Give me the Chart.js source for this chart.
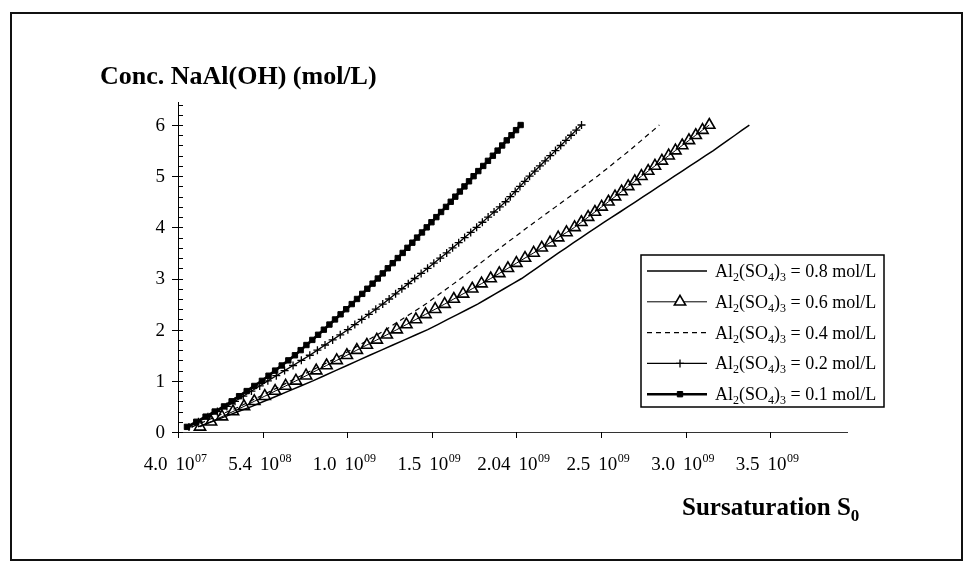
<!DOCTYPE html>
<html>
<head>
<meta charset="utf-8">
<title>Conc. NaAl(OH) - Sursaturation S0</title>
<script src="https://cdn.jsdelivr.net/npm/chart.js@4.4.1/dist/chart.umd.min.js"></script>
<style>
  html, body { margin: 0; padding: 0; background: #fff; }
  canvas { display: block; }
</style>
</head>
<body>
<canvas id="sursatChart" width="970" height="565"></canvas>
<script>
// Conc. NaAl(OH) (mol/L) - meme pas pour toutes les series
const conc = [0.1, 0.2, 0.3, 0.4, 0.5, 0.6, 0.7, 0.8, 0.9, 1.0,
    1.1, 1.2, 1.3, 1.4, 1.5, 1.6, 1.7, 1.8, 1.9, 2.0,
    2.1, 2.2, 2.3, 2.4, 2.5, 2.6, 2.7, 2.8, 2.9, 3.0,
    3.1, 3.2, 3.3, 3.4, 3.5, 3.6, 3.7, 3.8, 3.9, 4.0,
    4.1, 4.2, 4.3, 4.4, 4.5, 4.6, 4.7, 4.8, 4.9, 5.0,
    5.1, 5.2, 5.3, 5.4, 5.5, 5.6, 5.7, 5.8, 5.9, 6.0];

// Sursaturation S0 (x 10^9), une liste par concentration en Al2(SO4)3
const s0_08 = [0.158, 0.238, 0.318, 0.397, 0.477, 0.549, 0.621, 0.693, 0.765, 0.837,
    0.904, 0.971, 1.039, 1.106, 1.173, 1.242, 1.310, 1.379, 1.447, 1.516,
    1.575, 1.634, 1.693, 1.752, 1.811, 1.863, 1.915, 1.967, 2.019, 2.071,
    2.115, 2.158, 2.202, 2.245, 2.289, 2.334, 2.378, 2.423, 2.468, 2.513,
    2.559, 2.605, 2.652, 2.698, 2.744, 2.790, 2.836, 2.882, 2.928, 2.974,
    3.020, 3.066, 3.112, 3.158, 3.204, 3.247, 3.289, 3.332, 3.374, 3.417];

const s0_06 = [0.170, 0.235, 0.300, 0.365, 0.430, 0.491, 0.553, 0.614, 0.676, 0.737,
    0.797, 0.857, 0.918, 0.978, 1.038, 1.097, 1.156, 1.215, 1.274, 1.333,
    1.390, 1.446, 1.503, 1.560, 1.616, 1.670, 1.725, 1.779, 1.834, 1.888,
    1.939, 1.990, 2.040, 2.091, 2.142, 2.190, 2.239, 2.287, 2.336, 2.384,
    2.424, 2.464, 2.504, 2.544, 2.584, 2.623, 2.662, 2.701, 2.740, 2.779,
    2.819, 2.859, 2.900, 2.940, 2.980, 3.020, 3.060, 3.100, 3.140, 3.180];

const s0_04 = [0.123, 0.194, 0.264, 0.335, 0.406, 0.466, 0.526, 0.587, 0.647, 0.707,
    0.767, 0.827, 0.888, 0.948, 1.008, 1.060, 1.112, 1.164, 1.216, 1.268,
    1.315, 1.362, 1.410, 1.457, 1.504, 1.545, 1.587, 1.628, 1.670, 1.711,
    1.750, 1.789, 1.827, 1.866, 1.905, 1.945, 1.985, 2.026, 2.066, 2.106,
    2.147, 2.189, 2.230, 2.272, 2.313, 2.354, 2.395, 2.437, 2.478, 2.519,
    2.557, 2.595, 2.632, 2.670, 2.708, 2.743, 2.779, 2.814, 2.850, 2.885];

const s0_02 = [0.105, 0.161, 0.217, 0.273, 0.329, 0.377, 0.426, 0.474, 0.523, 0.571,
    0.621, 0.670, 0.720, 0.769, 0.819, 0.864, 0.909, 0.954, 0.999, 1.044,
    1.085, 1.126, 1.168, 1.209, 1.250, 1.288, 1.326, 1.363, 1.401, 1.439,
    1.477, 1.515, 1.552, 1.590, 1.628, 1.663, 1.699, 1.734, 1.770, 1.805,
    1.839, 1.873, 1.908, 1.942, 1.976, 2.004, 2.033, 2.061, 2.090, 2.118,
    2.149, 2.179, 2.210, 2.240, 2.271, 2.302, 2.333, 2.363, 2.394, 2.425];

const s0_01 = [0.093, 0.148, 0.203, 0.257, 0.312, 0.357, 0.401, 0.446, 0.491, 0.536,
    0.575, 0.614, 0.653, 0.692, 0.731, 0.765, 0.799, 0.834, 0.868, 0.902,
    0.935, 0.968, 1.001, 1.034, 1.067, 1.098, 1.129, 1.159, 1.190, 1.221,
    1.250, 1.280, 1.309, 1.339, 1.368, 1.396, 1.425, 1.453, 1.482, 1.510,
    1.538, 1.567, 1.595, 1.624, 1.652, 1.679, 1.706, 1.733, 1.760, 1.787,
    1.815, 1.844, 1.872, 1.901, 1.929, 1.956, 1.983, 2.011, 2.038, 2.065];

// noms des series ( _x = indice )
const seriesNames = ['Al_2(SO_4)_3 = 0.8 mol/L', 'Al_2(SO_4)_3 = 0.6 mol/L', 'Al_2(SO_4)_3 = 0.4 mol/L',
    'Al_2(SO_4)_3 = 0.2 mol/L', 'Al_2(SO_4)_3 = 0.1 mol/L'];

// graduations
const xTickValues = [0.04, 0.54, 1.04, 1.54, 2.04, 2.54, 3.04, 3.54];
const xTickMant = ['4.0', '5.4', '1.0', '1.5', '2.04', '2.5', '3.0', '3.5'];
const xTickExp = ['07', '08', '09', '09', '09', '09', '09', '09'];
const yTickValues = [0, 1, 2, 3, 4, 5, 6];

const yTitle = 'Conc. NaAl(OH) (mol/L)';
const xTitle = 'Sursaturation S_0';

const FONT = '"Liberation Serif", "Times New Roman", serif';

const toPoints = (xs) => xs.map((v, i) => ({ x: v, y: conc[i] }));

// texte avec indices
const drawRich = (ctx, label, x, y, size, weight) => {
    const parts = label.split(/_(\d)/);
    let cx = x;
    parts.forEach((t, i) => {
        const sub = i % 2 === 1;
        const s = sub ? Math.round(size * 0.68) : size;
        ctx.font = `${weight} ${s}px ${FONT}`;
        ctx.fillText(t, cx, sub ? y + size * 0.22 : y);
        cx += ctx.measureText(t).width;
    });
    return cx - x;
};

const drawMarker = (ctx, ds, x, y) => {
    const r = ds.pointRadius;
    if (!r) return;
    ctx.save();
    ctx.lineWidth = ds.pointBorderWidth;
    ctx.strokeStyle = '#000';
    ctx.fillStyle = ds.pointBackgroundColor;
    ctx.setLineDash([]);
    ctx.beginPath();
    if (ds.pointStyle === 'triangle') {
        let a = 0;
        ctx.moveTo(x + Math.sin(a) * r, y - Math.cos(a) * r);
        a += 2 * Math.PI / 3;
        ctx.lineTo(x + Math.sin(a) * r, y - Math.cos(a) * r);
        a += 2 * Math.PI / 3;
        ctx.lineTo(x + Math.sin(a) * r, y - Math.cos(a) * r);
        ctx.closePath();
        ctx.fillStyle = '#fff';
        ctx.fill();
        ctx.stroke();
    } else if (ds.pointStyle === 'cross') {
        ctx.moveTo(x - r, y); ctx.lineTo(x + r, y);
        ctx.moveTo(x, y - r); ctx.lineTo(x, y + r);
        ctx.stroke();
    } else if (ds.pointStyle === 'rect') {
        const h = r * Math.SQRT1_2;
        ctx.rect(x - h, y - h, 2 * h, 2 * h);
        ctx.fill();
        ctx.stroke();
    }
    ctx.restore();
};

const decor = {
    id: 'decor',
    beforeDatasetsDraw(chart) {
        const { ctx, scales: { x, y } } = chart;
        ctx.save();
        // cadre exterieur
        ctx.strokeStyle = '#111';
        ctx.lineWidth = 2;
        ctx.strokeRect(11, 13, 951, 547);

        const x0 = x.getPixelForValue(x.min);
        const y0 = y.getPixelForValue(0);

        // axes
        ctx.lineWidth = 1;
        ctx.strokeStyle = '#000';
        ctx.beginPath();
        ctx.moveTo(x0 + 0.5, y.getPixelForValue(y.max));
        ctx.lineTo(x0 + 0.5, y0);
        ctx.stroke();
        ctx.strokeStyle = '#333';
        ctx.beginPath();
        ctx.moveTo(x0, y0 + 0.5);
        ctx.lineTo(x.getPixelForValue(x.max), y0 + 0.5);
        ctx.stroke();

        // graduations y (majeures + mineures 0.2)
        ctx.strokeStyle = '#000';
        ctx.beginPath();
        for (let v = 0; v <= y.max + 1e-9; v += 0.2) {
            const py = Math.round(y.getPixelForValue(v)) + 0.5;
            ctx.moveTo(x0, py);
            ctx.lineTo(x0 + 5, py);
        }
        yTickValues.forEach((v) => {
            const py = Math.round(y.getPixelForValue(v)) + 0.5;
            ctx.moveTo(x0 - 6, py);
            ctx.lineTo(x0 + 5, py);
        });
        // graduations x
        xTickValues.forEach((v) => {
            const px = Math.round(x.getPixelForValue(v)) + 0.5;
            ctx.moveTo(px, y0);
            ctx.lineTo(px, y0 + 6);
        });
        ctx.stroke();

        // etiquettes y
        ctx.fillStyle = '#000';
        ctx.font = `19px ${FONT}`;
        ctx.textAlign = 'right';
        ctx.textBaseline = 'middle';
        yTickValues.forEach((v) => {
            ctx.fillText(String(v), x0 - 13, y.getPixelForValue(v) + 1);
        });

        // etiquettes x : mantisse + 10^exp
        ctx.textAlign = 'left';
        ctx.textBaseline = 'alphabetic';
        xTickValues.forEach((v, i) => {
            ctx.font = `19px ${FONT}`;
            const wM = ctx.measureText(xTickMant[i]).width;
            const w10 = ctx.measureText('10').width;
            ctx.font = `12px ${FONT}`;
            const wE = ctx.measureText(xTickExp[i]).width;
            const gap = 8;
            let cx = x.getPixelForValue(v) - 3 - (wM + gap + w10 + wE) / 2;
            ctx.font = `19px ${FONT}`;
            ctx.fillText(xTickMant[i], cx, y0 + 38);
            cx += wM + gap;
            ctx.fillText('10', cx, y0 + 38);
            cx += w10;
            ctx.font = `12px ${FONT}`;
            ctx.fillText(xTickExp[i], cx + 0.5, y0 + 30);
        });
        ctx.restore();
    },
    afterDraw(chart) {
        const { ctx } = chart;
        ctx.save();
        ctx.fillStyle = '#000';
        ctx.textAlign = 'left';
        ctx.textBaseline = 'alphabetic';

        // titres des axes
        drawRich(ctx, yTitle, 100, 84, 26, 'bold');
        drawRich(ctx, xTitle, 682, 515, 25, 'bold');

        // legende
        const box = { left: 641, top: 255, width: 243, height: 152 };
        ctx.fillStyle = '#fff';
        ctx.fillRect(box.left, box.top, box.width, box.height);
        ctx.strokeStyle = '#000';
        ctx.lineWidth = 1.5;
        ctx.strokeRect(box.left, box.top, box.width, box.height);

        const rowH = 30.8;
        chart.data.datasets.forEach((ds, i) => {
            const cy = box.top + 16 + i * rowH;
            const lx1 = box.left + 6, lx2 = box.left + 66;
            ctx.save();
            ctx.strokeStyle = '#000';
            ctx.lineWidth = ds.borderWidth;
            ctx.setLineDash(ds.borderDash || []);
            ctx.beginPath();
            ctx.moveTo(lx1, cy);
            ctx.lineTo(lx2, cy);
            ctx.stroke();
            ctx.restore();
            drawMarker(ctx, ds, (lx1 + lx2) / 2 + 3, cy);
            ctx.fillStyle = '#000';
            drawRich(ctx, ds.label, box.left + 74, cy + 6, 18, 'normal');
        });
        ctx.restore();
    }
};

const ctx = document.getElementById('sursatChart').getContext('2d');

new Chart(ctx, {
    type: 'scatter',
    data: {
        datasets: [
            {
                label: seriesNames[0],
                data: toPoints(s0_08),
                showLine: true,
                borderColor: '#000',
                borderWidth: 1.5,
                pointRadius: 0,
            },
            {
                label: seriesNames[1],
                data: toPoints(s0_06),
                showLine: true,
                borderColor: '#000',
                borderWidth: 1,
                pointStyle: 'triangle',
                pointRadius: 6.5,
                pointBorderWidth: 1.6,
                pointBorderColor: '#000',
                pointBackgroundColor: 'rgba(255,255,255,0)',
            },
            {
                label: seriesNames[2],
                data: toPoints(s0_04),
                showLine: true,
                borderColor: '#000',
                borderWidth: 1.2,
                borderDash: [5, 4],
                pointRadius: 0,
            },
            {
                label: seriesNames[3],
                data: toPoints(s0_02),
                showLine: true,
                borderColor: '#000',
                borderWidth: 1.3,
                pointStyle: 'cross',
                pointRadius: 4,
                pointBorderWidth: 1.3,
                pointBorderColor: '#000',
                pointBackgroundColor: '#000',
            },
            {
                label: seriesNames[4],
                data: toPoints(s0_01),
                showLine: true,
                borderColor: '#000',
                borderWidth: 2.6,
                pointStyle: 'rect',
                pointRadius: 3.8,
                pointBorderWidth: 1,
                pointBorderColor: '#000',
                pointBackgroundColor: '#000',
            }
        ],
    },
    options: {
        responsive: false,
        animation: false,
        devicePixelRatio: 1,
        layout: {
            padding: { left: 178, right: 122, top: 102, bottom: 133 },
        },
        scales: {
            x: { type: 'linear', min: 0.04, max: 4.0, display: false },
            y: { type: 'linear', min: 0, max: 6.45, display: false },
        },
        plugins: {
            legend: { display: false },
            tooltip: { enabled: false },
        },
    },
    plugins: [decor],
});
</script>
</body>
</html>
